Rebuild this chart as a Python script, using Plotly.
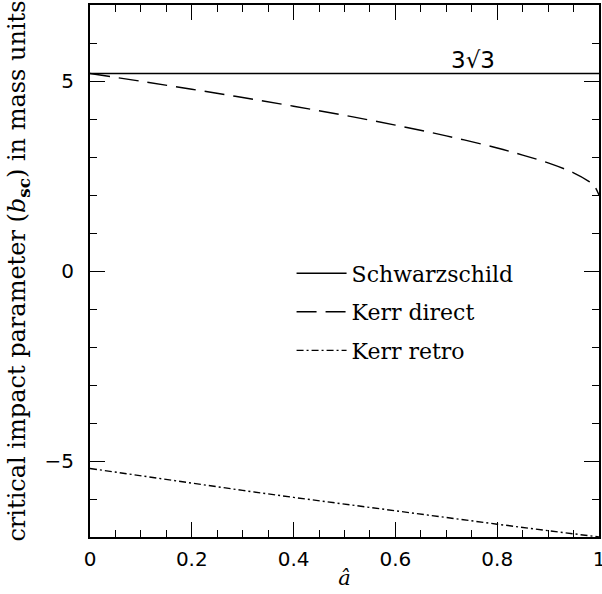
import plotly.graph_objects as go

# spin parameter a-hat
a_vals = [0.0, 0.1, 0.2, 0.3, 0.4, 0.5, 0.6, 0.7, 0.8, 0.85, 0.9, 0.95, 0.98, 0.99, 1.0]
# Schwarzschild critical impact parameter (3*sqrt(3))
schw = [5.196] * len(a_vals)
# Kerr direct (prograde)
kerr_direct = [5.196, 4.993, 4.784, 4.565, 4.337, 4.096, 3.839, 3.556, 3.237, 3.050, 2.845, 2.584, 2.359, 2.252, 2.0]
# Kerr retrograde
a_retro = [0.0, 0.1, 0.2, 0.3, 0.4, 0.5, 0.6, 0.7, 0.8, 0.9, 1.0]
kerr_retro = [-5.196, -5.393, -5.586, -5.774, -5.958, -6.138, -6.316, -6.491, -6.663, -6.832, -7.0]

x_ticks = [0, 0.2, 0.4, 0.6, 0.8, 1]
x_labels = ["0", "0.2", "0.4", "0.6", "0.8", "1"]
y_ticks = [-5, 0, 5]
y_labels = ["\u22125", "0", "5"]

fig = go.Figure()
fig.add_trace(go.Scatter(x=a_vals, y=schw, mode="lines", name="Schwarzschild",
                         legendgroup="g1",
                         line=dict(color="black", width=1.4)))
fig.add_trace(go.Scatter(x=a_vals, y=kerr_direct, mode="lines", name="Kerr direct",
                         legendgroup="g2", line_shape="spline",
                         line=dict(color="black", width=1.4, dash="20px,9px")))
fig.add_trace(go.Scatter(x=a_retro, y=kerr_retro, mode="lines", name="Kerr retro",
                         legendgroup="g3",
                         line=dict(color="black", width=1.4, dash="7px,3px,2px,3px")))

fig.add_annotation(x=0.752, y=5.54, xref="x", yref="y", text="3\u221a3", showarrow=False,
                   font=dict(family="DejaVu Sans", size=23, color="black"))

axis_common = dict(showgrid=False, zeroline=False, showline=True, linecolor="black",
                   linewidth=2, mirror="ticks", ticks="inside", ticklen=15, tickwidth=1.3,
                   tickcolor="black", automargin=False,
                   tickfont=dict(family="DejaVu Sans", size=20, color="black"))

fig.update_xaxes(range=[0, 1], tickvals=x_ticks, ticktext=x_labels,
                 minor=dict(dtick=0.05, ticks="inside", ticklen=7, tickwidth=1.3, tickcolor="black"),
                 title=dict(text="<i>\u00e2</i>", font=dict(family="DejaVu Serif", size=21, color="black"),
                            standoff=0),
                 ticklabelstandoff=3, ticklabeloverflow="allow",
                 **axis_common)
fig.update_yaxes(range=[-7, 7], tickvals=y_ticks, ticktext=y_labels,
                 minor=dict(dtick=1, ticks="inside", ticklen=7, tickwidth=1.3, tickcolor="black"),
                 title=dict(text="critical impact parameter (<i>b</i><sub><b>sc</b></sub>) in mass units",
                            font=dict(family="DejaVu Serif", size=24, color="black"), standoff=12),
                 ticklabelstandoff=10,
                 **axis_common)

fig.update_layout(
    width=602, height=594,
    margin=dict(l=90, r=3, t=5, b=57),
    plot_bgcolor="white", paper_bgcolor="white",
    showlegend=True,
    legend=dict(x=0.396, y=0.535, xanchor="left", yanchor="top",
                bgcolor="rgba(0,0,0,0)", borderwidth=0,
                font=dict(family="DejaVu Serif", size=22, color="black"),
                tracegroupgap=7, traceorder="grouped", itemwidth=50),
)

fig.write_html("out.html", config={"displayModeBar": False},
               post_script="document.body.style.margin='0px';")
